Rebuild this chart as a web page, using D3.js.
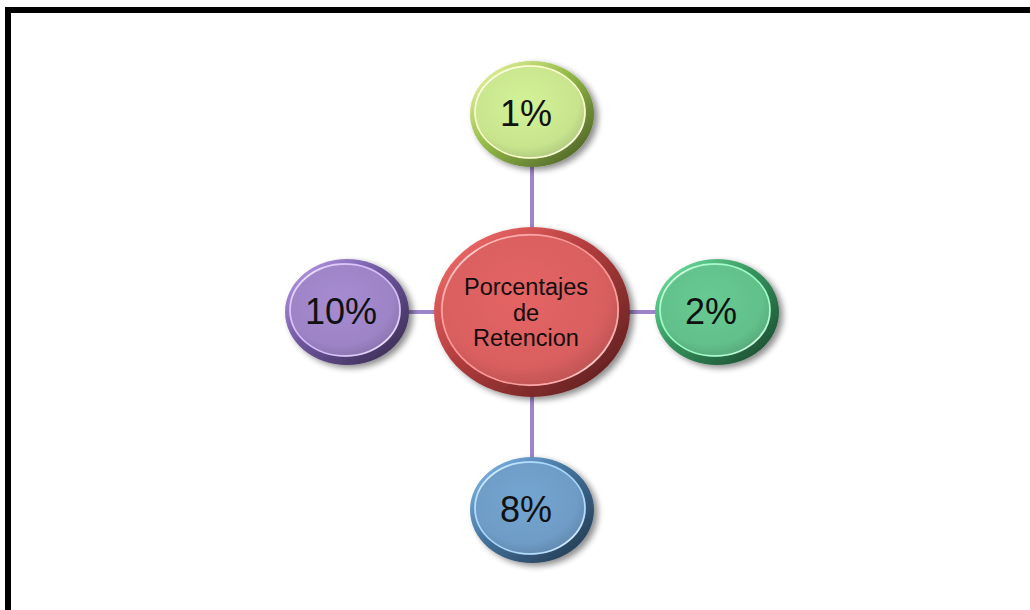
<!DOCTYPE html>
<html><head><meta charset="utf-8">
<script src="https://cdn.jsdelivr.net/npm/d3@7"></script>
<style>html,body{margin:0;padding:0;background:#fff;}svg{display:block;}</style>
</head><body>
<svg id="chart" width="1030" height="610"></svg>
<script>
// ---- data ----
const centerLines = ["Porcentajes", "de", "Retencion"];
const nodeLabels = ["1%", "2%", "8%", "10%"];          // clockwise from top
const nodeFaces  = ["#c8e58e", "#62c08a", "#6e9cc6", "#9d84c6"];
const nodeRims   = ["#93bb48", "#36945e", "#44729c", "#6e569e"];
const centerFace = "#d95f5f", centerRim = "#b23c3c";

const svg = d3.select("#chart");
const W = 1030, H = 610;
const cx = 532, cy = 312;

// frame
svg.append("line").attr("x1", 5).attr("x2", W).attr("y1", 10).attr("y2", 10)
  .attr("stroke", "#000").attr("stroke-width", 6);
svg.append("line").attr("x1", 8).attr("x2", 8).attr("y1", 7).attr("y2", H)
  .attr("stroke", "#000").attr("stroke-width", 6);

const defs = svg.append("defs");
const f = defs.append("filter").attr("id", "shadow").attr("x", "-20%").attr("y", "-20%").attr("width", "150%").attr("height", "150%");
f.append("feGaussianBlur").attr("in", "SourceAlpha").attr("stdDeviation", 3).attr("result", "b");
f.append("feOffset").attr("in", "b").attr("dx", 4).attr("dy", 3).attr("result", "o");
f.append("feComponentTransfer").attr("in", "o").attr("result", "o2")
  .append("feFuncA").attr("type", "linear").attr("slope", 0.45);
const fm = f.append("feMerge");
fm.append("feMergeNode").attr("in", "o2");
fm.append("feMergeNode").attr("in", "SourceGraphic");

function makeGrads(id, face, rim) {
  const c = d3.color(face);
  const lg = defs.append("linearGradient").attr("id", id + "-rim")
    .attr("x1", "0%").attr("y1", "0%").attr("x2", "100%").attr("y2", "100%");
  lg.append("stop").attr("offset", "0%").attr("stop-color", c.brighter(0.6));
  lg.append("stop").attr("offset", "45%").attr("stop-color", rim);
  lg.append("stop").attr("offset", "80%").attr("stop-color", d3.color(rim).darker(1.2));
  lg.append("stop").attr("offset", "100%").attr("stop-color", d3.color(rim).darker(2.4));
  const rg = defs.append("radialGradient").attr("id", id + "-face")
    .attr("cx", "45%").attr("cy", "40%").attr("r", "60%");
  rg.append("stop").attr("offset", "0%").attr("stop-color", c.brighter(0.15));
  rg.append("stop").attr("offset", "80%").attr("stop-color", face);
  rg.append("stop").attr("offset", "100%").attr("stop-color", d3.color(face).darker(0.3));
  const hl = defs.append("linearGradient").attr("id", id + "-hl")
    .attr("x1", "0%").attr("y1", "100%").attr("x2", "100%").attr("y2", "0%");
  hl.append("stop").attr("offset", "0%").attr("stop-color", "#fff").attr("stop-opacity", 0.0);
  hl.append("stop").attr("offset", "50%").attr("stop-color", "#fff").attr("stop-opacity", 0.6);
  hl.append("stop").attr("offset", "100%").attr("stop-color", "#fff").attr("stop-opacity", 0.0);
}

function drawButton(g, id, rx, ry, face, rim) {
  makeGrads(id, face, rim);
  g.append("ellipse").attr("rx", rx).attr("ry", ry)
    .attr("fill", `url(#${id}-rim)`).attr("filter", "url(#shadow)");
  const t = Math.max(7, rx * 0.1);
  g.append("ellipse").attr("cx", -2).attr("cy", -2).attr("rx", rx - t).attr("ry", ry - t)
    .attr("fill", `url(#${id}-face)`)
    .attr("stroke", d3.color(face).brighter(0.8)).attr("stroke-width", 1.5);
  g.append("ellipse").attr("cx", -2).attr("cy", -2).attr("rx", rx - t).attr("ry", ry - t)
    .attr("fill", "none").attr("stroke", `url(#${id}-hl)`).attr("stroke-width", 2);
}

// radial positioning via scales
const angle = d3.scalePoint().domain(nodeLabels).range([-90, 180]);
const rX = 185, rY = 198;
const pos = d => {
  const a = angle(d) * Math.PI / 180;
  return [cx + rX * Math.cos(a), cy + rY * Math.sin(a)];
};

// connectors
svg.append("g").selectAll("line").data(nodeLabels).join("line")
  .attr("x1", cx).attr("y1", cy)
  .attr("x2", d => pos(d)[0]).attr("y2", d => pos(d)[1])
  .attr("stroke", "#9d85c8").attr("stroke-width", 4);

// center
const cg = svg.append("g").attr("transform", `translate(${cx},${cy})`);
drawButton(cg, "ctr", 98, 85, centerFace, centerRim);
cg.append("text").attr("text-anchor", "middle").attr("font-family", "Liberation Sans, Arial, sans-serif")
  .attr("font-size", 23.5).attr("fill", "#140c0c")
  .selectAll("tspan").data(centerLines).join("tspan")
  .attr("x", -6).attr("y", (d, i) => -17 + i * 25.5).text(d => d);

// satellites
const ng = svg.append("g").selectAll("g").data(nodeLabels).join("g")
  .attr("transform", d => `translate(${pos(d)[0]},${pos(d)[1]})`);
ng.each(function(d, i) {
  drawButton(d3.select(this), "n" + i, 62, 53, nodeFaces[i], nodeRims[i]);
});
ng.append("text").attr("text-anchor", "middle").attr("x", -6).attr("y", 12)
  .attr("font-family", "Liberation Sans, Arial, sans-serif").attr("font-size", 36)
  .attr("fill", "#111").text(d => d);
</script>
</body></html>
